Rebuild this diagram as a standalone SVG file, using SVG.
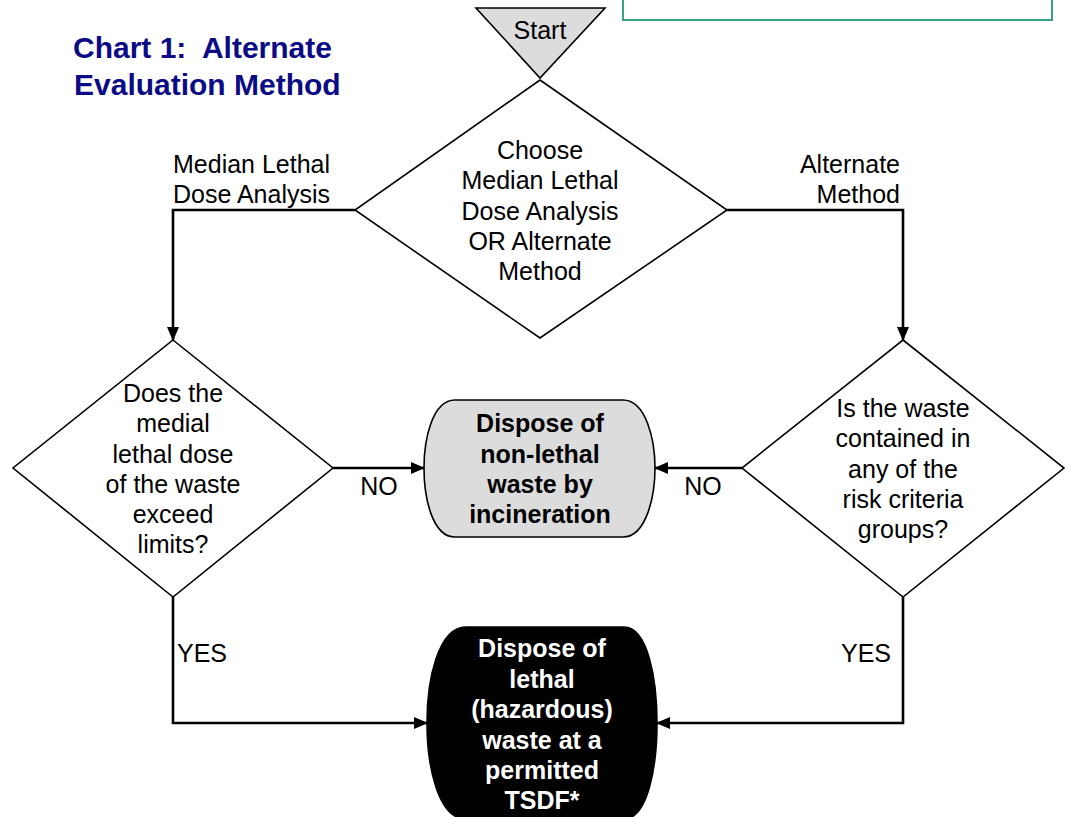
<svg xmlns="http://www.w3.org/2000/svg" width="1070" height="817" viewBox="0 0 1070 817">
<defs>
<marker id="arr" markerUnits="userSpaceOnUse" markerWidth="14" markerHeight="14" viewBox="0 0 14 14" refX="13" refY="7" orient="auto">
<path d="M0,1 L14,7 L0,13 Z" fill="#000"/>
</marker>
<style>
.t{font-family:"Liberation Sans",Arial,sans-serif;font-size:25px;fill:#000;text-anchor:middle}
.b{font-weight:bold}
.w{fill:#fff}
.l{text-anchor:start}
.r{text-anchor:end}
.shape{stroke:#000;stroke-width:1.6}
.conn{fill:none;stroke:#000;stroke-width:2.6;marker-end:url(#arr)}
.title{font-family:"Liberation Sans",Arial,sans-serif;font-size:30px;font-weight:bold;fill:#0b0b86;white-space:pre}
</style>
</defs>
<rect width="1070" height="817" fill="#fff"/>
<g id="note-box">
<rect x="623" y="-20" width="429" height="40" fill="#fff" stroke="#33a383" stroke-width="2"/>
</g>
<g id="title">
<text class="title" x="73" y="58" xml:space="preserve">Chart 1:  Alternate</text>
<text class="title" x="74" y="95">Evaluation Method</text>
</g>
<g id="start">
<polygon class="shape" points="476,8 605,8 540,78" fill="#dcdcdc"/>
<text class="t" x="540" y="39">Start</text>
</g>
<g id="choose">
<polygon class="shape" points="540,80 727,210 540,338 355,210" fill="#fff"/>
<text class="t" x="540" y="159">Choose</text>
<text class="t" x="540" y="189">Median Lethal</text>
<text class="t" x="540" y="220">Dose Analysis</text>
<text class="t" x="540" y="250">OR Alternate</text>
<text class="t" x="540" y="280">Method</text>
</g>
<g id="q-dose">
<polygon class="shape" points="173,340 333,468 173,597 13,468" fill="#fff"/>
<text class="t" x="173" y="402">Does the</text>
<text class="t" x="173" y="432">medial</text>
<text class="t" x="173" y="463">lethal dose</text>
<text class="t" x="173" y="493">of the waste</text>
<text class="t" x="173" y="523">exceed</text>
<text class="t" x="173" y="553">limits?</text>
</g>
<g id="q-risk">
<polygon class="shape" points="903,340 1064,468 903,597 742,468" fill="#fff"/>
<text class="t" x="903" y="417">Is the waste</text>
<text class="t" x="903" y="447">contained in</text>
<text class="t" x="903" y="478">any of the</text>
<text class="t" x="903" y="508">risk criteria</text>
<text class="t" x="903" y="538">groups?</text>
</g>
<g id="nonlethal">
<path class="shape" fill="#dcdcdc" d="M455,400 H623 C646,400 655,440 655,468 C655,497 646,537 623,537 H455 C432,537 424,497 424,468 C424,440 432,400 455,400 Z"/>
<text class="t b" x="540" y="432">Dispose of</text>
<text class="t b" x="540" y="463">non-lethal</text>
<text class="t b" x="540" y="493">waste by</text>
<text class="t b" x="540" y="523">incineration</text>
</g>
<g id="lethal">
<path class="shape" fill="#000" d="M466,627 H624 C648,627 657,680 657,723 C657,766 648,819 624,819 H466 C438,819 427,766 427,723 C427,680 438,627 466,627 Z"/>
<text class="t b w" x="542" y="657">Dispose of</text>
<text class="t b w" x="542" y="688">lethal</text>
<text class="t b w" x="542" y="718">(hazardous)</text>
<text class="t b w" x="542" y="749">waste at a</text>
<text class="t b w" x="542" y="779">permitted</text>
<text class="t b w" x="542" y="809">TSDF*</text>
</g>
<g id="connectors">
<path class="conn" d="M355,210 H173 V340"/>
<path class="conn" d="M727,210 H903 V340"/>
<path class="conn" d="M333,468 H424"/>
<path class="conn" d="M742,468 H655"/>
<path class="conn" d="M173,597 V723 H427"/>
<path class="conn" d="M903,597 V723 H657"/>
</g>
<g id="labels">
<text class="t l" x="173" y="173">Median Lethal</text>
<text class="t l" x="173" y="203">Dose Analysis</text>
<text class="t r" x="900" y="173">Alternate</text>
<text class="t r" x="900" y="203">Method</text>
<text class="t" x="379" y="495">NO</text>
<text class="t" x="703" y="495">NO</text>
<text class="t l" x="177" y="662">YES</text>
<text class="t r" x="891" y="662">YES</text>
</g>
</svg>
